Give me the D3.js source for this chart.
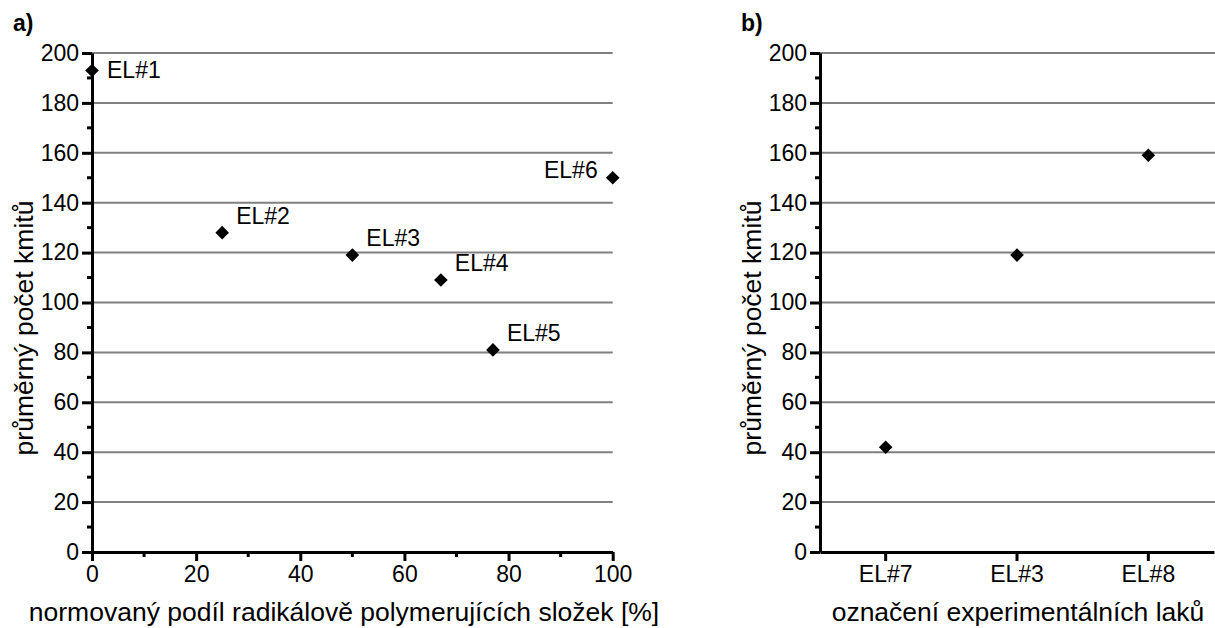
<!DOCTYPE html>
<html lang="cs">

<head>
    <meta charset="utf-8">
    <style>
        body {
            margin: 0;
            background: #fff;
            font-family: 'Liberation Sans', Arial, sans-serif;
        }
    </style>
</head>

<body>
    <div id="chart"></div>
    <script src="https://d3js.org/d3.v7.min.js"></script>
    <script>
        // panel a) data
        const podil = [0, 25, 50, 67, 77, 100];
        const kmityA = [193, 128, 119, 109, 81, 150];
        const nazvyA = ['EL#1', 'EL#2', 'EL#3', 'EL#4', 'EL#5', 'EL#6'];
        // panel b) data
        const nazvyB = ['EL#7', 'EL#3', 'EL#8'];
        const kmityB = [42, 119, 159];
        const yTicks = [0, 20, 40, 60, 80, 100, 120, 140, 160, 180, 200];
        const xTicksA = [0, 20, 40, 60, 80, 100];

        const W = 1215, H = 628;
        const plotTop = 53, plotBottom = 552;
        const tickFont = '23px', titleFont = '26.5px';
        const svg = d3.select('#chart').append('svg')
            .attr('width', W).attr('height', H);

        const grid = '#808080';
        const diamond = d3.symbol().type(d3.symbolDiamond2).size(118);

        function styleAxis(ax) {
            ax.select('.domain').attr('stroke-width', 3);
            ax.selectAll('.tick line').attr('stroke-width', 3);
            ax.selectAll('.tick text').style('font-size', tickFont).style('font-family', 'Liberation Sans').attr('fill', '#000');
        }

        function yAxis(g, y, x0, x1) {
            // gridlines
            g.selectAll('line.grid').data(yTicks.filter(d => d > 0)).enter()
                .append('line').attr('class', 'grid')
                .attr('x1', x0).attr('x2', x1)
                .attr('y1', d => y(d)).attr('y2', d => y(d))
                .attr('stroke', grid).attr('stroke-width', 2);
            // minor ticks
            g.selectAll('line.minor').data(d3.range(10, 200, 20)).enter()
                .append('line').attr('class', 'minor')
                .attr('x1', x0 - 5).attr('x2', x0)
                .attr('y1', d => y(d)).attr('y2', d => y(d))
                .attr('stroke', '#000').attr('stroke-width', 3);
            const ax = g.append('g').attr('transform', `translate(${x0},0)`)
                .call(d3.axisLeft(y).tickValues(yTicks).tickSize(10).tickPadding(3).tickSizeOuter(0));
            styleAxis(ax);
        }

        function yTitle(x) {
            svg.append('text')
                .attr('transform', `translate(${x},328) rotate(-90)`)
                .attr('text-anchor', 'middle')
                .style('font-size', titleFont)
                .text('průměrný počet kmitů');
        }

        /* ---------- a) ---------- */
        const xA = d3.scaleLinear().domain([0, 100]).range([92, 612.7]);
        const yA = d3.scaleLinear().domain([0, 200]).range([plotBottom, plotTop]);
        const gA = svg.append('g');
        yAxis(gA, yA, 92, 612.7);

        gA.selectAll('line.xminor').data(d3.range(10, 100, 20)).enter()
            .append('line').attr('class', 'xminor')
            .attr('x1', d => xA(d)).attr('x2', d => xA(d))
            .attr('y1', plotBottom).attr('y2', plotBottom + 5)
            .attr('stroke', '#000').attr('stroke-width', 3);
        const axA = gA.append('g').attr('transform', `translate(0,${plotBottom})`)
            .call(d3.axisBottom(xA).tickValues(xTicksA).tickSize(9).tickPadding(5).tickSizeOuter(0));
        styleAxis(axA);

        // label placement: first point right, last point left, others above-right
        const labelPos = (i) => i === 0 ? [15, 8, 'start'] : i === podil.length - 1 ? [-15, 0, 'end'] : [14, -9, 'start'];
        gA.selectAll('text.lab').data(podil).enter()
            .append('text').attr('class', 'lab')
            .attr('x', (d, i) => xA(d) + labelPos(i)[0])
            .attr('y', (d, i) => yA(kmityA[i]) + labelPos(i)[1])
            .attr('text-anchor', (d, i) => labelPos(i)[2])
            .style('font-size', tickFont)
            .text((d, i) => nazvyA[i]);

        gA.selectAll('path.pt').data(podil).enter()
            .append('path').attr('class', 'pt')
            .attr('d', diamond)
            .attr('transform', (d, i) => `translate(${xA(d)},${yA(kmityA[i])})`)
            .attr('fill', '#000');

        svg.append('text').attr('x', 13).attr('y', 31)
            .style('font-size', '23px').style('font-weight', 'bold').text('a)');
        yTitle(33);
        svg.append('text').attr('x', 344).attr('y', 621)
            .attr('text-anchor', 'middle').style('font-size', titleFont)
            .text('normovaný podíl radikálově polymerujících složek [%]');

        /* ---------- b) ---------- */
        const xB = d3.scaleBand().domain(nazvyB).range([820, 1214]);
        const yB = d3.scaleLinear().domain([0, 200]).range([plotBottom, plotTop]);
        const gB = svg.append('g');
        yAxis(gB, yB, 820, 1215);
        const axB = gB.append('g').attr('transform', `translate(0,${plotBottom})`)
            .call(d3.axisBottom(xB).tickSize(9).tickPadding(5).tickSizeOuter(0));
        styleAxis(axB);

        gB.selectAll('path.pt').data(nazvyB).enter()
            .append('path').attr('class', 'pt')
            .attr('d', diamond)
            .attr('transform', (d, i) => `translate(${xB(d) + xB.bandwidth() / 2},${yB(kmityB[i])})`)
            .attr('fill', '#000');

        svg.append('text').attr('x', 741).attr('y', 31)
            .style('font-size', '23px').style('font-weight', 'bold').text('b)');
        yTitle(761);
        svg.append('text').attr('x', 1018).attr('y', 621)
            .attr('text-anchor', 'middle').style('font-size', titleFont)
            .text('označení experimentálních laků');
    </script>
</body>

</html>
